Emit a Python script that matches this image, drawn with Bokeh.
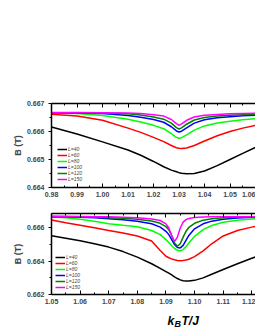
from bokeh.plotting import figure
from bokeh.models import (Range1d, LinearAxis, FixedTicker, PrintfTickFormatter,
                          CustomJSTickFormatter, Legend, LegendItem, Label)
from bokeh.layouts import column
from bokeh.embed import file_html
from bokeh.resources import INLINE

# ---------------- data ----------------
labels = ["L=40", "L=60", "L=80", "L=100", "L=120", "L=150"]
colors = ["#000000", "#FF0000", "#00FF00", "#0000FF", "#008000", "#FF00FF"]

x_top = [0.98, 0.99, 1.00, 1.01, 1.015, 1.02, 1.024, 1.027, 1.029, 1.030, 1.031,
         1.033, 1.036, 1.04, 1.045, 1.05, 1.055, 1.06]
top_L40 = [0.66616, 0.66591, 0.66563, 0.66534, 0.66515, 0.66493, 0.66474, 0.66462, 0.66456,
           0.66453, 0.66451, 0.66449, 0.66450, 0.66459, 0.66478, 0.66500, 0.66522, 0.66543]
top_L60 = [0.66662, 0.66655, 0.66640, 0.66612, 0.66597, 0.66579, 0.66564, 0.66550, 0.66542,
           0.66540, 0.66539, 0.66541, 0.66550, 0.66566, 0.66585, 0.66600, 0.66612, 0.66622]
top_L80 = [0.66666, 0.66664, 0.66657, 0.66644, 0.66634, 0.66622, 0.66610, 0.66592, 0.66579,
           0.66576, 0.66578, 0.66588, 0.66605, 0.66620, 0.66630, 0.66637, 0.66642, 0.66646]
top_L100 = [0.66667, 0.66666, 0.66664, 0.66657, 0.66651, 0.66643, 0.66633, 0.66617, 0.66602,
            0.66598, 0.66601, 0.66613, 0.66630, 0.66642, 0.66649, 0.66653, 0.66656, 0.66658]
top_L120 = [0.66667, 0.66667, 0.66666, 0.66663, 0.66659, 0.66652, 0.66644, 0.66630, 0.66614,
            0.66609, 0.66613, 0.66626, 0.66641, 0.66650, 0.66655, 0.66658, 0.66660, 0.66662]
top_L150 = [0.666675, 0.666675, 0.66667, 0.666665, 0.66664, 0.66660, 0.66655, 0.66643, 0.66628,
            0.66622, 0.66627, 0.66640, 0.66652, 0.66658, 0.66661, 0.66663, 0.66664, 0.66665]

x_bot = [1.05, 1.055, 1.06, 1.065, 1.07, 1.075, 1.08, 1.085, 1.088, 1.09, 1.091, 1.092,
         1.093, 1.094, 1.095, 1.096, 1.097, 1.098, 1.10, 1.103, 1.106, 1.11, 1.115, 1.12, 1.1215]
bot_L40 = [0.66553, 0.66538, 0.66523, 0.66505, 0.66485, 0.66458, 0.66425, 0.66385, 0.66357,
           0.66338, 0.66328, 0.66318, 0.66306, 0.66296, 0.66288, 0.66283, 0.66281, 0.66281,
           0.66285, 0.66300, 0.66322, 0.66350, 0.66385, 0.66418, 0.66427]
bot_L60 = [0.66648, 0.66632, 0.66617, 0.66601, 0.66585, 0.66570, 0.66552, 0.66522, 0.66465,
           0.66430, 0.66421, 0.66414, 0.66409, 0.66405, 0.66403, 0.66404, 0.66407, 0.66412,
           0.66428, 0.66462, 0.66505, 0.66552, 0.66585, 0.66605, 0.66610]
bot_L80 = [0.66666, 0.66661, 0.66652, 0.66640, 0.66626, 0.66616, 0.66607, 0.66585, 0.66560,
           0.66530, 0.66512, 0.66493, 0.66477, 0.66466, 0.66463, 0.66470, 0.66488, 0.66510,
           0.66550, 0.66590, 0.66615, 0.66634, 0.66646, 0.66654, 0.66656]
bot_L100 = [0.66668, 0.66667, 0.66665, 0.66661, 0.66656, 0.66649, 0.66640, 0.66625, 0.66605,
            0.66580, 0.66560, 0.66530, 0.66500, 0.66482, 0.66480, 0.66495, 0.66525, 0.66555,
            0.66595, 0.66625, 0.66641, 0.66653, 0.66660, 0.66664, 0.66665]
bot_L120 = [0.66669, 0.66668, 0.66667, 0.66665, 0.66662, 0.66658, 0.66652, 0.66642, 0.66628,
            0.66608, 0.66590, 0.66555, 0.66510, 0.66490, 0.66505, 0.66545, 0.66580, 0.66603,
            0.66628, 0.66647, 0.66656, 0.66662, 0.66665, 0.66667, 0.66667]
bot_L150 = [0.66670, 0.66670, 0.66669, 0.66668, 0.66667, 0.66665, 0.66661, 0.66654, 0.66645,
            0.66625, 0.66600, 0.66555, 0.66518, 0.66545, 0.66600, 0.66635, 0.66650, 0.66657,
            0.66663, 0.66666, 0.66667, 0.66668, 0.66668, 0.66668, 0.66668]

top_xticks = [0.98, 0.99, 1.00, 1.01, 1.02, 1.03, 1.04, 1.05, 1.06]
top_xminor = [0.985, 0.995, 1.005, 1.015, 1.025, 1.035, 1.045, 1.055]
top_yticks = [0.664, 0.665, 0.666, 0.667]
top_yminor = [0.6645, 0.6655, 0.6665]
bot_xticks = [1.05, 1.06, 1.07, 1.08, 1.09, 1.10, 1.11, 1.12]
bot_xminor = [1.055, 1.065, 1.075, 1.085, 1.095, 1.105, 1.115]
bot_yticks = [0.662, 0.664, 0.666]
bot_yminor = [0.663, 0.665]

FONT = "Liberation Sans"
FIG_W = 255
BL = 51


def make_panel(xs, ys_list, xr, yr, xt, xm, yt, ym, height, mbt, mbb, legend_loc):
    p = figure(width=FIG_W, height=height, output_backend="svg", toolbar_location=None,
               x_range=Range1d(*xr), y_range=Range1d(*yr),
               min_border_left=BL, min_border_right=0, min_border_top=mbt,
               min_border_bottom=mbb, x_axis_location=None, y_axis_location=None)
    p.grid.visible = False
    p.outline_line_color = None
    p.background_fill_color = "white"
    p.border_fill_color = "white"

    xticker = FixedTicker(ticks=xt, minor_ticks=xm)
    yticker = FixedTicker(ticks=yt, minor_ticks=ym)

    xb = LinearAxis(ticker=xticker, formatter=PrintfTickFormatter(format="%.2f"))
    xa = LinearAxis(ticker=xticker, formatter=CustomJSTickFormatter(code="return ''"))
    yl = LinearAxis(ticker=yticker, formatter=PrintfTickFormatter(format="%.3f"),
                    axis_label="B (T)")
    for ax in (xb, xa):
        ax.major_tick_in = 4
        ax.major_tick_out = 0
        ax.minor_tick_in = 2
        ax.minor_tick_out = 0
    yl.major_tick_in = 0
    yl.major_tick_out = 3
    yl.minor_tick_in = 0
    yl.minor_tick_out = 2
    for ax in (xb, xa, yl):
        ax.axis_line_width = 1.5
        ax.major_tick_line_width = 1
        ax.minor_tick_line_width = 1
        ax.major_label_text_font = FONT
        ax.major_label_text_font_style = "bold"
        ax.major_label_text_font_size = "7px"
        ax.major_label_standoff = 4
    yl.axis_label_text_font = FONT
    yl.axis_label_text_font_size = "9px"
    yl.axis_label_text_font_style = "bold"
    yl.axis_label_standoff = 1
    xa.major_label_standoff = 0
    p.add_layout(xb, "below")
    p.add_layout(xa, "above")
    p.add_layout(yl, "left")

    items = []
    for lab, col, ys in zip(labels, colors, ys_list):
        r = p.line(xs, ys, line_color=col, line_width=1.5)
        items.append(LegendItem(label=lab, renderers=[r]))
    leg = Legend(items=items, location=legend_loc, padding=0, margin=0, spacing=0,
                 glyph_height=6, glyph_width=10, label_height=6, label_standoff=1,
                 label_text_font=FONT, label_text_font_size="5px",
                 label_text_font_style="italic",
                 background_fill_alpha=0, border_line_alpha=0)
    p.add_layout(leg)
    return p


top_xr = (0.98, 1.06)
top_yr = (0.664, 0.667)
bot_xr = (1.05, 1.1213)
bot_yr = (0.662, 0.66687)

p1 = make_panel(x_top, [top_L40, top_L60, top_L80, top_L100, top_L120, top_L150],
                top_xr, top_yr, top_xticks, top_xminor, top_yticks, top_yminor,
                height=205, mbt=103, mbb=18, legend_loc=(6, 5))

p2 = make_panel(x_bot, [bot_L40, bot_L60, bot_L80, bot_L100, bot_L120, bot_L150],
                bot_xr, bot_yr, bot_xticks, bot_xminor, bot_yticks, bot_yminor,
                height=103, mbt=8, mbb=14, legend_loc=(4, 4))

# strip below holding the x-axis title  k_B T/J  (page-pixel coordinates in the strip)
TH = 22
p3 = figure(width=FIG_W, height=TH, output_backend="svg", toolbar_location=None,
            x_range=Range1d(BL, FIG_W), y_range=Range1d(0, TH),
            min_border_left=BL, min_border_right=0, min_border_top=0, min_border_bottom=0,
            x_axis_location=None, y_axis_location=None)
p3.grid.visible = False
p3.outline_line_color = None
for txt, px, py, size in [("k", 167, 10, "12px"), ("B", 174, 7, "9px"), ("T/J", 181, 10, "12px")]:
    p3.add_layout(Label(x=px, y=py, text=txt, text_font=FONT, text_font_size=size,
                        text_font_style="bold italic", text_color="black",
                        text_baseline="alphabetic", text_align="left"))

layout = column(p1, p2, p3, spacing=0)
open("out.html", "w").write(file_html(layout, INLINE))
